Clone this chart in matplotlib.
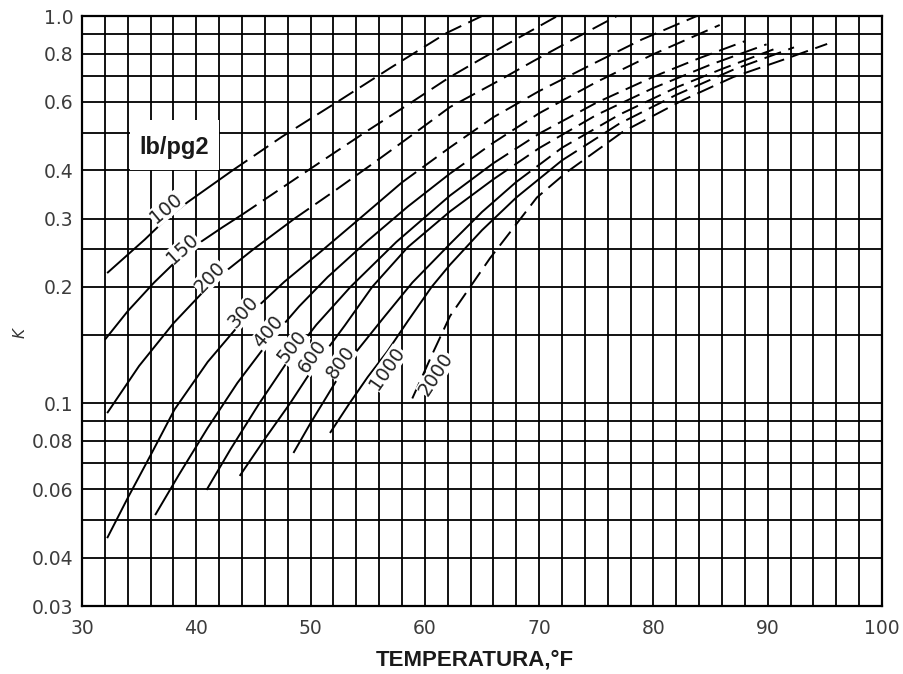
import matplotlib
matplotlib.use("Agg")
import matplotlib.pyplot as plt
from matplotlib.patches import Rectangle
from matplotlib.ticker import FixedLocator, FixedFormatter, NullFormatter

# K vs temperature, one curve per pressure (lb/pg2)
t_100 = [32.2, 35.5, 37.4, 39.2, 43.2, 47.5, 52.6, 57.0, 61.9, 65.0]
k_100 = [0.217, 0.265, 0.300, 0.330, 0.400, 0.488, 0.607, 0.735, 0.904, 1.0]

t_150 = [32.0, 34.0, 36.3, 39.0, 42.3, 44.0, 48.5, 52.0, 55.0, 58.5, 62.2, 65.0, 68.0, 71.6]
k_150 = [0.146, 0.173, 0.205, 0.245, 0.285, 0.307, 0.377, 0.442, 0.506, 0.590, 0.696, 0.777, 0.872, 1.0]

t_200 = [32.2, 35.0, 38.0, 41.5, 45.0, 48.6, 52.0, 55.4, 58.8, 62.2, 66.0, 69.5, 73.0, 76.8]
k_200 = [0.0944, 0.125, 0.161, 0.207, 0.250, 0.300, 0.352, 0.415, 0.491, 0.582, 0.669, 0.765, 0.871, 1.0]

t_300 = [32.2, 34.0, 36.0, 38.1, 41.0, 44.1, 47.7, 51.0, 54.3, 58.0, 62.2, 66.0, 70.0, 75.0, 79.0, 83.8]
k_300 = [0.0449, 0.057, 0.0735, 0.0965, 0.128, 0.164, 0.206, 0.248, 0.300, 0.372, 0.458, 0.548, 0.640, 0.760, 0.870, 1.0]

t_400 = [36.4, 38.5, 41.0, 43.6, 46.3, 49.0, 51.5, 55.0, 58.5, 62.2, 66.0, 70.0, 75.0, 80.0, 85.8]
k_400 = [0.0515, 0.0656, 0.0865, 0.113, 0.144, 0.178, 0.212, 0.263, 0.322, 0.392, 0.471, 0.561, 0.675, 0.797, 0.948]

t_500 = [40.9, 43.0, 45.5, 47.8, 50.5, 53.5, 57.5, 62.2, 66.0, 70.0, 75.0, 80.0, 84.0, 88.0]
k_500 = [0.0598, 0.0762, 0.0999, 0.126, 0.1595, 0.200, 0.261, 0.344, 0.417, 0.497, 0.597, 0.697, 0.778, 0.861]

t_600 = [43.8, 46.0, 48.2, 50.2, 53.0, 55.4, 58.5, 62.2, 66.0, 70.0, 75.0, 80.0, 85.0, 89.9]
k_600 = [0.065, 0.081, 0.100, 0.123, 0.159, 0.200, 0.253, 0.313, 0.379, 0.456, 0.555, 0.652, 0.749, 0.845]

t_800 = [48.5, 50.0, 51.4, 52.6, 54.0, 56.5, 58.9, 62.2, 65.0, 68.0, 72.0, 77.0, 82.0, 86.0, 90.5]
k_800 = [0.0745, 0.089, 0.104, 0.119, 0.136, 0.168, 0.205, 0.258, 0.312, 0.373, 0.457, 0.556, 0.654, 0.730, 0.820]

t_1000 = [51.7, 53.4, 55.0, 56.7, 58.5, 60.6, 62.2, 65.0, 68.0, 72.0, 77.0, 82.0, 87.0, 92.3]
k_1000 = [0.0839, 0.100, 0.117, 0.136, 0.163, 0.200, 0.228, 0.280, 0.340, 0.424, 0.527, 0.626, 0.727, 0.830]

t_2000 = [58.9, 60.7, 62.2, 65.7, 69.8, 72.4, 77.3, 82.6, 87.0, 91.3, 95.2]
k_2000 = [0.103, 0.135, 0.168, 0.237, 0.340, 0.395, 0.502, 0.607, 0.696, 0.770, 0.847]

pressures = ["100", "150", "200", "300", "400", "500", "600", "800", "1000", "2000"]
curves = [(t_100, k_100), (t_150, k_150), (t_200, k_200), (t_300, k_300), (t_400, k_400),
          (t_500, k_500), (t_600, k_600), (t_800, k_800), (t_1000, k_1000), (t_2000, k_2000)]
# temperature where each curve turns dashed
dash_from = [43.2, 44.0, 48.6, 58.0, 62.2, 66.0, 66.0, 68.0, 72.0, 58.9]

# label spots (T, K) and angle, as placed on the chart
label_t = [37.35, 38.84, 41.2, 44.1, 46.3, 48.4, 50.2, 52.6, 56.7, 61.0]
label_k = [0.318, 0.251, 0.212, 0.172, 0.153, 0.140, 0.132, 0.128, 0.123, 0.119]
label_rot = [40, 42, 46, 48, 50, 52, 55, 54, 55, 57]

k_ticks = [0.03, 0.04, 0.06, 0.08, 0.1, 0.2, 0.3, 0.4, 0.6, 0.8, 1.0]
k_tick_labels = ["0.03", "0.04", "0.06", "0.08", "0.1", "0.2", "0.3", "0.4", "0.6", "0.8", "1.0"]
k_minor = [0.05, 0.07, 0.09, 0.15, 0.25, 0.5, 0.7, 0.9]

fig = plt.figure(figsize=(9.04, 6.74), dpi=100)
ax = fig.add_axes([82 / 904, 1 - 606 / 674, 800 / 904, 590 / 674])

ax.set_yscale("log")
ax.set_xlim(30, 100)
ax.set_ylim(0.03, 1.0)

ax.xaxis.set_major_locator(FixedLocator(list(range(30, 101, 10))))
ax.xaxis.set_minor_locator(FixedLocator(list(range(30, 101, 2))))
ax.yaxis.set_major_locator(FixedLocator(k_ticks))
ax.yaxis.set_major_formatter(FixedFormatter(k_tick_labels))
ax.yaxis.set_minor_locator(FixedLocator(k_minor))
ax.yaxis.set_minor_formatter(NullFormatter())

ax.grid(True, which="both", color="black", linewidth=1.3)
ax.set_axisbelow(True)
ax.tick_params(which="both", length=0)
ax.tick_params(axis="y", pad=6, labelsize=13.5, labelcolor="#3c3c3c")
ax.tick_params(axis="x", pad=9, labelsize=13.5, labelcolor="#3c3c3c")
for sp in ax.spines.values():
    sp.set_linewidth(1.6)

for (t, k), d0 in zip(curves, dash_from):
    i = t.index(d0)
    if i > 0:
        ax.plot(t[:i + 1], k[:i + 1], color="black", lw=1.4, solid_capstyle="butt", zorder=3)
    ax.plot(t[i:], k[i:], color="black", lw=1.4, dashes=(9, 4), zorder=3)

for name, lt, lk, rot in zip(pressures, label_t, label_k, label_rot):
    ax.text(lt, lk, name, rotation=rot, rotation_mode="anchor", ha="center", va="center",
            fontsize=13.5, color="#222222", zorder=5,
            bbox=dict(facecolor="white", edgecolor="none", pad=0.2))

# unit box over the grid
ax.add_patch(Rectangle((34.2, 0.40), 7.8, 0.139, facecolor="white", edgecolor="none", zorder=2))
ax.text(38.1, 0.458, "lb/pg2", ha="center", va="center", fontsize=17, fontweight="bold",
        family="Liberation Sans", color="#1a1a1a", zorder=4)

fig.text(475 / 904, 1 - 660 / 674, "TEMPERATURA,°F", ha="center", va="center",
         fontsize=16, fontweight="bold", family="Liberation Sans", color="#1a1a1a")
fig.text(20 / 904, 1 - 333 / 674, "K", rotation=90, ha="center", va="center",
         fontsize=11, fontstyle="italic", color="#333333")

fig.savefig("out.png", dpi=100, facecolor="white")
